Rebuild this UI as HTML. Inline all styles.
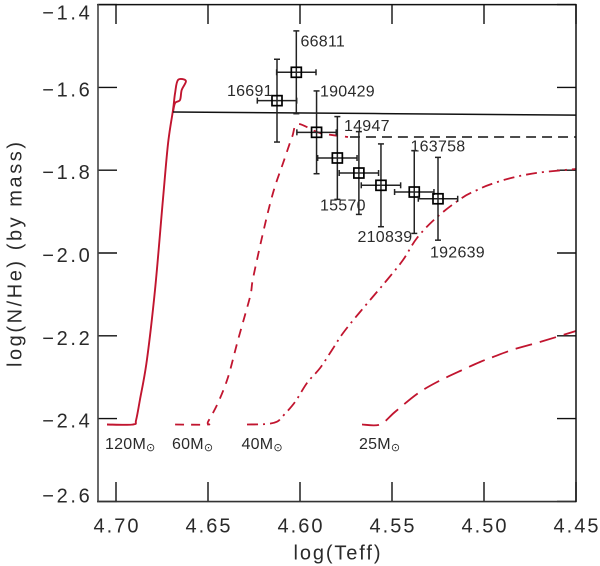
<!DOCTYPE html>
<html>
<head>
<meta charset="utf-8">
<title>log(N/He) vs log(Teff)</title>
<style>
html,body{margin:0;padding:0;background:#fff;width:600px;height:566px;overflow:hidden}
svg{display:block}
text{font-family:"Liberation Sans","DejaVu Sans",sans-serif;fill:#2a2a2a}
.tick{font-size:20px;letter-spacing:2px}
.ytick{letter-spacing:2.7px}
.star{font-size:16px;letter-spacing:.25px}
.mass{font-size:16px;letter-spacing:.25px}
.sun{font-family:"DejaVu Sans",sans-serif;font-size:11px;letter-spacing:0}
.title{font-size:20px}
</style>
</head>
<body>
<svg id="chart" width="600" height="566" viewBox="0 0 600 566" xmlns="http://www.w3.org/2000/svg">
  <g id="ticks"></g>
  <g id="tracks"></g>
  <g id="stars"></g>
  <g id="frame">
    <line x1="97" y1="4.6" x2="576.5" y2="4.6" stroke="#111" stroke-width="1.5"/>
    <line x1="97" y1="501.6" x2="576.5" y2="501.6" stroke="#333" stroke-width="1.6"/>
    <line x1="98" y1="4" x2="98" y2="502" stroke="#444" stroke-width="1.6"/>
    <line x1="576" y1="4" x2="576" y2="502" stroke="#111" stroke-width="1.5"/>
  </g>
  <g id="star-labels">
    <text class="star" x="300.5" y="46.5">66811</text>
    <text class="star" x="227" y="96">16691</text>
    <text class="star" x="320" y="96.5">190429</text>
    <text class="star" x="344" y="131">14947</text>
    <text class="star" x="410.5" y="151.5">163758</text>
    <text class="star" x="320" y="210.5">15570</text>
    <text class="star" x="357.5" y="242">210839</text>
    <text class="star" x="430" y="257.5">192639</text>
  </g>
  <g id="mass-labels">
    <text class="mass" x="105" y="449">120M<tspan class="sun" dy="2">⊙</tspan></text>
    <text class="mass" x="172" y="449">60M<tspan class="sun" dy="2">⊙</tspan></text>
    <text class="mass" x="241.5" y="449">40M<tspan class="sun" dy="2">⊙</tspan></text>
    <text class="mass" x="359" y="449">25M<tspan class="sun" dy="2">⊙</tspan></text>
  </g>
  <text class="title" x="293.5" y="559.5" textLength="87" lengthAdjust="spacing">log(Teff)</text>
  <text class="title" transform="translate(21.5,367) rotate(-90)" x="0" y="0" textLength="225" lengthAdjust="spacing">log(N/He) (by mass)</text>
</svg>
<script>
// Axis tick values and printed labels
const xTickValues = [4.70, 4.65, 4.60, 4.55, 4.50, 4.45];
const xTickLabels = ["4.70", "4.65", "4.60", "4.55", "4.50", "4.45"];
const yTickValues = [-1.4, -1.6, -1.8, -2.0, -2.2, -2.4, -2.6];
const yTickLabels = ["\u22121.4", "\u22121.6", "\u22121.8", "\u22122.0", "\u22122.2", "\u22122.4", "\u22122.6"];

// Star measurements
const starNames = ["66811", "16691", "190429", "15570", "14947", "210839", "163758", "192639"];
const starLogTeff = [4.602, 4.6125, 4.591, 4.5797, 4.568, 4.556, 4.5379, 4.525];
const starLogNHe = [-1.5635, -1.632, -1.7085, -1.7705, -1.8068, -1.8365, -1.8527, -1.869];
const starErrTeff = [0.0107, 0.0107, 0.0107, 0.0107, 0.0107, 0.0107, 0.0107, 0.0107];
const starErrNHe = [0.1, 0.1, 0.1, 0.1, 0.1, 0.1, 0.1, 0.1];

// 120 Msun track
const track120Teff = [4.7049, 4.6908, 4.6891, 4.6870, 4.6832, 4.6788, 4.6745, 4.6717, 4.6690, 4.6679, 4.6663, 4.6620, 4.6643, 4.6652, 4.6679, 4.6690];
const track120NHe = [-2.4143, -2.4143, -2.4034, -2.3551, -2.2585, -2.0894, -1.8720, -1.7343, -1.6546, -1.6135, -1.5821, -1.5845, -1.6063, -1.6304, -1.6377, -1.6594];
// 60 Msun track
const track60Teff = [4.6679, 4.6505, 4.6500, 4.6446, 4.6391, 4.6337, 4.6272, 4.6255, 4.6201, 4.6147, 4.6092, 4.6043, 4.6011, 4.5891, 4.5739];
const track60NHe = [-2.4143, -2.4143, -2.4080, -2.3623, -2.2995, -2.2101, -2.1062, -2.0604, -1.9517, -1.8551, -1.7826, -1.7198, -1.6884, -1.7101, -1.7198];
// 40 Msun track
const track40Teff = [4.6288, 4.6179, 4.6125, 4.6098, 4.6027, 4.5962, 4.5891, 4.5826, 4.5766, 4.5674, 4.5582, 4.5527, 4.5440, 4.5364, 4.5255, 4.5120, 4.5043, 4.4967, 4.4842, 4.4696, 4.4500];
const track40NHe = [-2.4143, -2.4130, -2.4075, -2.3961, -2.3599, -2.3140, -2.2778, -2.2343, -2.1932, -2.1425, -2.0942, -2.0652, -2.0169, -1.9638, -1.9130, -1.8671, -1.8490, -1.8345, -1.8176, -1.8056, -1.7971];
// 25 Msun track
const track25Teff = [4.5663, 4.5565, 4.5484, 4.5364, 4.5255, 4.5130, 4.5022, 4.4951, 4.4832, 4.4696, 4.4500];
const track25NHe = [-2.4143, -2.4143, -2.3841, -2.3406, -2.3116, -2.2850, -2.2633, -2.2512, -2.2319, -2.2150, -2.1884];
// Black continuation lines
const solidTeff = [4.6690, 4.4500];
const solidNHe = [-1.6594, -1.6670];
const dashedTeff = [4.5728, 4.4500];
const dashedNHe = [-1.7198, -1.7198];

const SVGNS = "http://www.w3.org/2000/svg";
function xScale(v) { return 116 + (4.70 - v) * 1840; }
function yScale(v) { return 4.6 + (-1.4 - v) * 414; }
function make(tag, parent, attrs) {
  const el = document.createElementNS(SVGNS, tag);
  for (const k in attrs) el.setAttribute(k, attrs[k]);
  parent.appendChild(el);
  return el;
}
function seg(parent, x1, y1, x2, y2, color, width) {
  return make("line", parent, { x1: x1, y1: y1, x2: x2, y2: y2, stroke: color, "stroke-width": width });
}
// Smooth path through the data points (Catmull-Rom converted to cubic Beziers)
function smoothPath(xs, ys) {
  const pts = xs.map(function (x, i) { return [xScale(x), yScale(ys[i])]; });
  let d = "M" + pts[0][0].toFixed(1) + " " + pts[0][1].toFixed(1);
  for (let i = 0; i < pts.length - 1; i++) {
    const p0 = pts[Math.max(i - 1, 0)], p1 = pts[i], p2 = pts[i + 1], p3 = pts[Math.min(i + 2, pts.length - 1)];
    const c1x = p1[0] + (p2[0] - p0[0]) / 6, c1y = p1[1] + (p2[1] - p0[1]) / 6;
    const c2x = p2[0] - (p3[0] - p1[0]) / 6, c2y = p2[1] - (p3[1] - p1[1]) / 6;
    d += "C" + c1x.toFixed(1) + " " + c1y.toFixed(1) + " " + c2x.toFixed(1) + " " + c2y.toFixed(1) + " " + p2[0].toFixed(1) + " " + p2[1].toFixed(1);
  }
  return d;
}

const ticksG = document.getElementById("ticks");
xTickValues.forEach(function (v, i) {
  const px = xScale(v);
  const bottom = seg(ticksG, px, 501.6, px, 482, "#111", 1.4);
  
  
  const top = seg(ticksG, px, 4.6, px, 24, "#111", 1.4);
  
  
  const label = make("text", ticksG, { class: "tick", x: px + 1, y: 532.7, "text-anchor": "middle" });
  
  
  label.textContent = xTickLabels[i];
});
yTickValues.forEach(function (v, i) {
  const py = yScale(v);
  const left = seg(ticksG, 98, py, 117, py, "#111", 1.4);
  
  
  const right = seg(ticksG, 576, py, 557, py, "#111", 1.4);
  
  
  // the extreme labels are nudged inward, as in the source plot
  const nudge = i === 0 ? 15 : (i === yTickValues.length - 1 ? 1 : 9);
  const label = make("text", ticksG, { class: "tick ytick", x: 92.5, y: py + nudge, "text-anchor": "end" });
  
  
  label.textContent = yTickLabels[i];
});

const tracksG = document.getElementById("tracks");
const RED = "#c1152f";
function track(parent, xs, ys, color, width, dash) {
  const attrs = { d: smoothPath(xs, ys), fill: "none", stroke: color, "stroke-width": width, "stroke-linejoin": "round" };
  if (dash) attrs["stroke-dasharray"] = dash;
  return make("path", parent, attrs);
}
const t120 = track(tracksG, track120Teff, track120NHe, RED, 1.9, null);


const t60 = track(tracksG, track60Teff, track60NHe, RED, 1.8, "9 7");


const t40 = track(tracksG, track40Teff, track40NHe, RED, 1.8, "11 5 2 5");


const t25 = track(tracksG, track25Teff, track25NHe, RED, 1.8, "17 8");


const solid = track(tracksG, solidTeff, solidNHe, "#111", 1.5, null);


const dashed = track(tracksG, dashedTeff, dashedNHe, "#111", 1.5, "10 6");



const starsG = document.getElementById("stars");
starNames.forEach(function (name, i) {
  const cx = xScale(starLogTeff[i]);
  const cy = yScale(starLogNHe[i]);
  const x0 = xScale(starLogTeff[i] + starErrTeff[i]);
  const x1 = xScale(starLogTeff[i] - starErrTeff[i]);
  const y0 = yScale(starLogNHe[i] + starErrNHe[i]);
  const y1 = yScale(starLogNHe[i] - starErrNHe[i]);
  const g = make("g", starsG, {});
  
  
  const c = "#222";
  seg(g, x0, cy, x1, cy, c, 1.5);
  seg(g, cx, y0, cx, y1, c, 1.5);
  seg(g, x0, cy - 3, x0, cy + 3, c, 1.5);
  seg(g, x1, cy - 3, x1, cy + 3, c, 1.5);
  seg(g, cx - 3, y0, cx + 3, y0, c, 1.5);
  seg(g, cx - 3, y1, cx + 3, y1, c, 1.5);
  make("rect", g, { x: cx - 5, y: cy - 5, width: 10, height: 10, fill: "none", stroke: "#000", "stroke-width": 1.7 });
});
</script>
</body>
</html>
